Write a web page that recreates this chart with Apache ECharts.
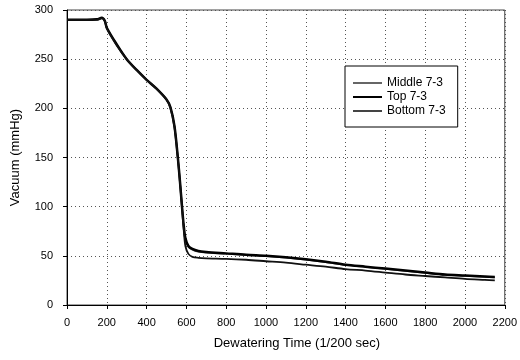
<!DOCTYPE html>
<html>
<head>
<meta charset="utf-8">
<script src="https://cdn.jsdelivr.net/npm/echarts@6/dist/echarts.min.js"></script>
<style>
  html, body { margin: 0; padding: 0; background: #fff; }
  #chart { width: 520px; height: 360px; }
</style>
</head>
<body>
<div id="chart"></div>
<script>
// dewatering time, 1/200 sec
const times = [0, 50, 100, 150, 175, 190, 200, 250, 300, 350, 400, 450, 500, 520, 540, 557, 568, 578, 586, 595, 610, 630, 660, 700, 800, 900, 1000, 1100, 1200, 1300, 1400, 1500, 1600, 1700, 1800, 1900, 2000, 2100, 2150];
// vacuum, mmHg
const middle73 = [290, 290, 290, 290.5, 292, 289, 282, 265, 250, 239, 229, 220, 209, 201, 182, 150, 125, 100, 81, 66, 59, 56, 54, 53, 52, 50.5, 49.5, 48, 46, 43.5, 40.5, 38.5, 36.5, 34.5, 32.5, 30.5, 29.5, 28.5, 28];
const top73 = [290, 290, 290, 290.5, 292, 289, 282, 265, 250, 239, 229, 220, 209, 201, 182, 150, 125, 100, 82, 68, 60, 57, 55, 54, 52.5, 51, 50, 48.5, 46.5, 44, 41, 39, 37, 35, 33, 31, 30, 29, 28.5];
const bottom73 = [290, 290, 290, 290, 291.5, 289, 281, 264, 250, 239, 229, 220, 209, 200, 181, 149, 124, 99, 78, 60, 52, 49, 48, 47.5, 47, 46, 44.5, 43, 41, 39, 36.5, 35, 33, 31, 29.5, 28, 26.5, 25.5, 25];

const xTicks = [0, 200, 400, 600, 800, 1000, 1200, 1400, 1600, 1800, 2000, 2200];
const yTicks = [0, 50, 100, 150, 200, 250, 300];

const pairs = vals => times.map((t, i) => [t, vals[i]]);

const chart = echarts.init(document.getElementById('chart'));
const font = 'Liberation Sans, Arial, sans-serif';

chart.setOption({
  animation: false,
  backgroundColor: '#fff',
  textStyle: { fontFamily: font },
  grid: {
    left: 67, right: 14, top: 10, bottom: 55,
    show: true, borderColor: '#444', borderWidth: 1
  },
  legend: {
    orient: 'vertical',
    left: 345, top: 66,
    padding: [11, 12, 10, 8],
    itemGap: 2,
    itemWidth: 29, itemHeight: 2,
    icon: 'rect',
    borderColor: '#000', borderWidth: 1,
    backgroundColor: '#fff',
    textStyle: { fontSize: 12, lineHeight: 12, color: '#000', fontFamily: font },
    data: [
      { name: 'Middle 7-3', itemStyle: { color: '#666' } },
      { name: 'Top 7-3', itemStyle: { color: '#000' } },
      { name: 'Bottom 7-3', itemStyle: { color: '#444' } }
    ]
  },
  xAxis: {
    type: 'value',
    min: 0, max: 2200, interval: 200,
    name: 'Dewatering Time (1/200 sec)',
    nameLocation: 'middle',
    nameGap: 32,
    nameTextStyle: { fontSize: 13, color: '#000', fontFamily: font, padding: [0, 0, 0, 22] },
    axisLine: { lineStyle: { color: '#000', width: 1 } },
    axisTick: { length: 4, lineStyle: { color: '#000' } },
    axisLabel: {
      fontSize: 11, color: '#000', fontFamily: font, margin: 12,
      formatter: v => xTicks.includes(v) ? String(v) : ''
    },
    splitLine: { show: true, lineStyle: { color: '#555', type: [1, 3], width: 1 } }
  },
  yAxis: {
    type: 'value',
    min: 0, max: 300, interval: 50,
    name: 'Vacuum (mmHg)',
    nameLocation: 'middle',
    nameGap: 45,
    nameTextStyle: { fontSize: 13, color: '#000', fontFamily: font },
    axisLine: { show: true, lineStyle: { color: '#000', width: 1 } },
    axisTick: { show: true, length: 4, lineStyle: { color: '#000' } },
    axisLabel: {
      fontSize: 11, color: '#000', fontFamily: font, margin: 14,
      formatter: v => yTicks.includes(v) ? String(v) : ''
    },
    splitLine: { show: true, lineStyle: { color: '#555', type: [1, 3], width: 1 } }
  },
  series: [
    {
      name: 'Middle 7-3', type: 'line', data: pairs(middle73),
      showSymbol: false, smooth: 0.3,
      lineStyle: { color: '#444', width: 1.4 }, itemStyle: { color: '#666' }
    },
    {
      name: 'Top 7-3', type: 'line', data: pairs(top73),
      showSymbol: false, smooth: 0.3,
      lineStyle: { color: '#000', width: 2.5 }, itemStyle: { color: '#000' }
    },
    {
      name: 'Bottom 7-3', type: 'line', data: pairs(bottom73),
      showSymbol: false, smooth: 0.3,
      lineStyle: { color: '#111', width: 1.8 }, itemStyle: { color: '#444' }
    }
  ]
});
</script>
</body>
</html>
